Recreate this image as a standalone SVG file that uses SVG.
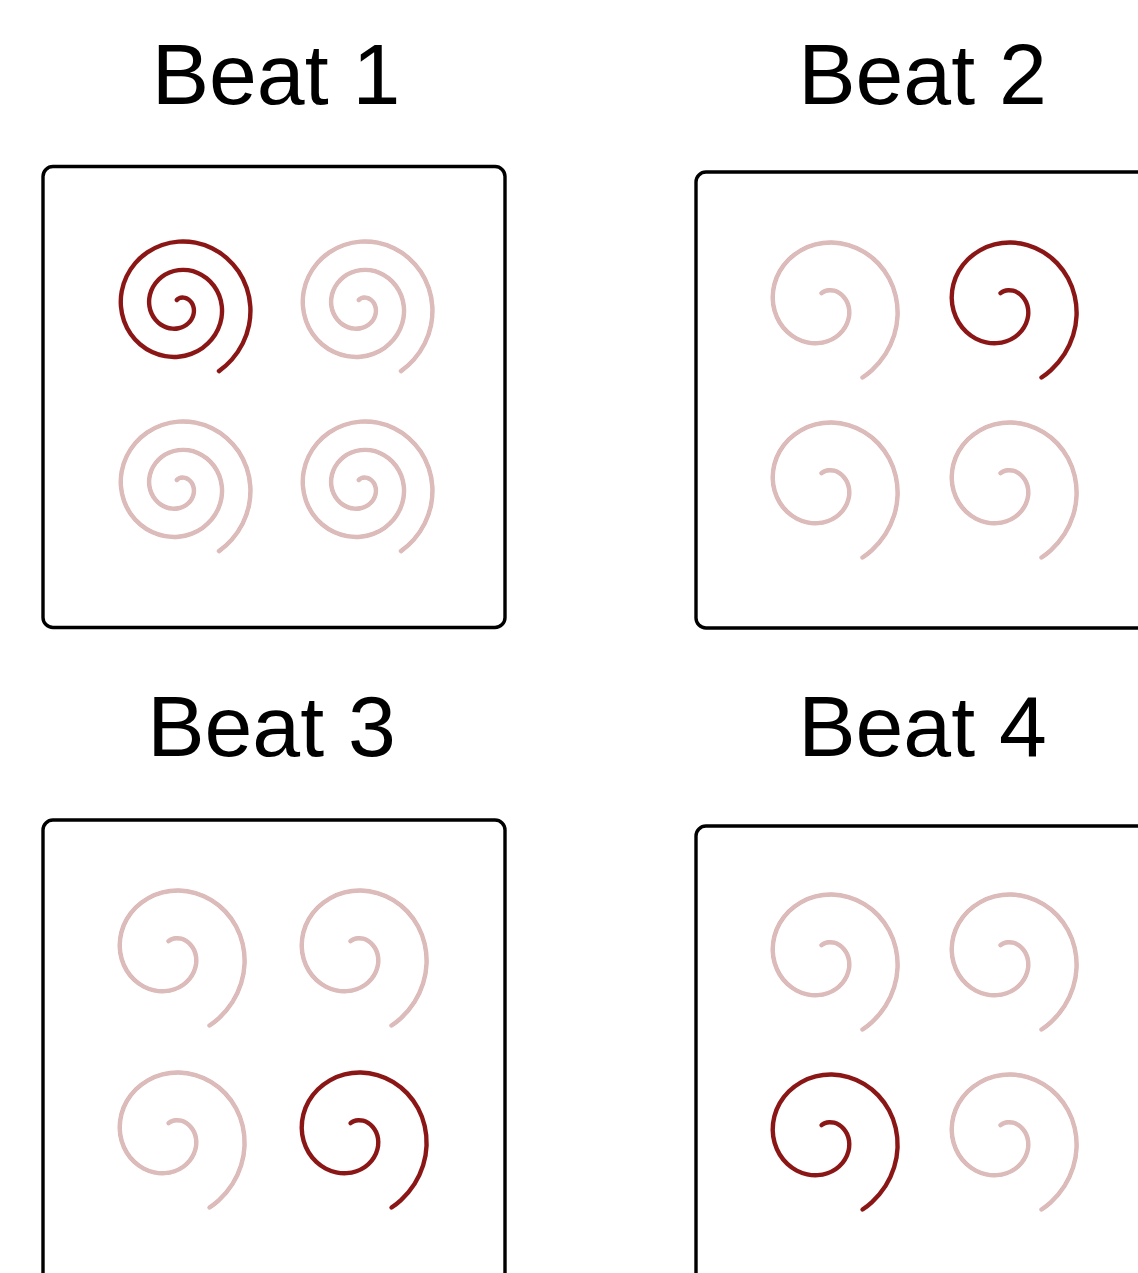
<svg xmlns="http://www.w3.org/2000/svg" width="1138" height="1273" viewBox="0 0 1138 1273">
<style>
.title{font-family:"Liberation Sans",Arial,sans-serif;font-size:86px;fill:#000;text-anchor:middle}
.box{fill:#fff;stroke:#000;stroke-width:3.4}
.sp{fill:none;stroke:#8a1515;stroke-width:4.4;stroke-linecap:round;stroke-linejoin:round;filter:url(#soft)}
.off{stroke-opacity:0.3}
</style>
<defs>
<filter id="soft" x="-10%" y="-10%" width="120%" height="120%"><feGaussianBlur stdDeviation="0.6"/></filter>
<path id="spA" d="M-1.68,-6.28 A7.09,7.09 0 0 1 0,-7.69 A8.28,8.28 0 0 1 2.30,-8.58 A9.47,9.47 0 0 1 5.03,-8.71 A10.66,10.66 0 0 1 7.95,-7.95 A11.84,11.84 0 0 1 10.77,-6.22 A13.03,13.03 0 0 1 13.17,-3.53 A14.22,14.22 0 0 1 14.81,0 A15.41,15.41 0 0 1 15.45,4.14 A16.59,16.59 0 0 1 14.89,8.60 A17.78,17.78 0 0 1 13,13 A18.97,18.97 0 0 1 9.78,16.94 A20.16,20.16 0 0 1 5.37,20.04 A21.34,21.34 0 0 1 0,21.94 A22.53,22.53 0 0 1 -5.99,22.34 A23.72,23.72 0 0 1 -12.16,21.05 A24.91,24.91 0 0 1 -18.03,18.03 A26.09,26.09 0 0 1 -23.11,13.35 A27.28,27.28 0 0 1 -26.93,7.22 A28.47,28.47 0 0 1 -29.06,0 A29.66,29.66 0 0 1 -29.22,-7.83 A30.84,30.84 0 0 1 -27.23,-15.72 A32.03,32.03 0 0 1 -23.07,-23.07 A33.22,33.22 0 0 1 -16.91,-29.28 A34.41,34.41 0 0 1 -9.06,-33.81 A35.59,35.59 0 0 1 0,-36.19 A36.78,36.78 0 0 1 9.67,-36.11 A37.97,37.97 0 0 1 19.28,-33.39 A39.16,39.16 0 0 1 28.11,-28.11 A40.34,40.34 0 0 1 35.45,-20.47 A41.53,41.53 0 0 1 40.69,-10.90 A42.72,42.72 0 0 1 43.31,0 A43.91,43.91 0 0 1 42.98,11.52 A45.09,45.09 0 0 1 39.57,22.85 A46.28,46.28 0 0 1 33.15,33.15 A47.47,47.47 0 0 1 24.03,41.62 A48.66,48.66 0 0 1 12.75,47.57 A49.84,49.84 0 0 1 0,50.44 A51.03,51.03 0 0 1 -13.36,49.87 A52.22,52.22 0 0 1 -26.41,45.73 A53.41,53.41 0 0 1 -38.18,38.18 A54.59,54.59 0 0 1 -47.79,27.60 A55.78,55.78 0 0 1 -54.46,14.59 A56.97,56.97 0 0 1 -57.56,0 A58.16,58.16 0 0 1 -56.75,-15.20 A59.34,59.34 0 0 1 -51.91,-29.97 A60.53,60.53 0 0 1 -43.23,-43.23 A61.72,61.72 0 0 1 -31.16,-53.96 A62.91,62.91 0 0 1 -16.43,-61.33 A64.09,64.09 0 0 1 0,-64.69 A65.28,65.28 0 0 1 17.05,-63.63 A66.47,66.47 0 0 1 33.53,-58.07 A67.66,67.66 0 0 1 48.26,-48.26 A68.84,68.84 0 0 1 60.13,-34.72 A70.03,70.03 0 0 1 68.22,-18.28 A71.22,71.22 0 0 1 71.81,0 A72.41,72.41 0 0 1 70.51,18.89 A73.59,73.59 0 0 1 64.25,37.09 A74.78,74.78 0 0 1 53.30,53.30 A75.9,75.9 0 0 1 40.48,64.79"/>
<path id="spB" d="M-1.46,-11.91 A13.02,13.02 0 0 1 1.95,-13.90 A15.06,15.06 0 0 1 6.28,-14.80 A17.10,17.10 0 0 1 11.16,-14.29 A19.15,19.15 0 0 1 16.11,-12.14 A21.19,21.19 0 0 1 20.59,-8.32 A23.23,23.23 0 0 1 24.07,-2.96 A25.27,25.27 0 0 1 26.03,3.66 A27.31,27.31 0 0 1 26.08,11.07 A29.35,29.35 0 0 1 23.94,18.71 A31.40,31.40 0 0 1 19.51,25.89 A33.44,33.44 0 0 1 12.91,31.95 A35.48,35.48 0 0 1 4.45,36.23 A37.52,37.52 0 0 1 -5.36,38.17 A39.56,39.56 0 0 1 -15.85,37.35 A41.60,41.60 0 0 1 -26.25,33.59 A43.65,43.65 0 0 1 -35.67,26.88 A45.69,45.69 0 0 1 -43.31,17.50 A47.73,47.73 0 0 1 -48.38,5.94 A49.77,49.77 0 0 1 -50.30,-7.07 A51.81,51.81 0 0 1 -48.63,-20.64 A53.85,53.85 0 0 1 -43.25,-33.79 A55.90,55.90 0 0 1 -34.25,-45.46 A57.94,57.94 0 0 1 -22.09,-54.67 A59.98,59.98 0 0 1 -7.44,-60.54 A62.02,62.02 0 0 1 8.78,-62.43 A64.06,64.06 0 0 1 25.43,-59.91 A66.10,66.10 0 0 1 41.33,-52.90 A68.15,68.15 0 0 1 55.24,-41.63 A70.19,70.19 0 0 1 66.03,-26.68 A72.23,72.23 0 0 1 72.70,-8.93 A74.27,74.27 0 0 1 74.56,10.48 A76.31,76.31 0 0 1 71.18,30.21 A78.35,78.35 0 0 1 62.55,48.87 A80.40,80.40 0 0 1 49.00,65.02 A82.0,82.0 0 0 1 39.52,72.49"/>
</defs>
<rect width="1138" height="1273" fill="#fff"/>
<g id="beat1">
<text class="title" x="276" y="104">Beat 1</text>
<rect class="box" x="43" y="166.5" width="462" height="461" rx="10"/>
<use href="#spA" class="sp" x="178.5" y="306.3"/>
<use href="#spA" class="sp off" x="360.5" y="306.3"/>
<use href="#spA" class="sp off" x="178.5" y="486.3"/>
<use href="#spA" class="sp off" x="360.5" y="486.3"/>
</g>
<g id="beat2">
<text class="title" x="922.5" y="104">Beat 2</text>
<rect class="box" x="696" y="172" width="462" height="456" rx="10"/>
<use href="#spB" class="sp off" x="823" y="305"/>
<use href="#spB" class="sp" x="1002" y="305"/>
<use href="#spB" class="sp off" x="823" y="485"/>
<use href="#spB" class="sp off" x="1002" y="485"/>
</g>
<g id="beat3">
<text class="title" x="271.5" y="756">Beat 3</text>
<rect class="box" x="43" y="820" width="462" height="470" rx="10"/>
<use href="#spB" class="sp off" x="170" y="953"/>
<use href="#spB" class="sp off" x="352" y="953"/>
<use href="#spB" class="sp off" x="170" y="1135"/>
<use href="#spB" class="sp" x="352" y="1135"/>
</g>
<g id="beat4">
<text class="title" x="922.5" y="756">Beat 4</text>
<rect class="box" x="696" y="826" width="462" height="470" rx="10"/>
<use href="#spB" class="sp off" x="823" y="957"/>
<use href="#spB" class="sp off" x="1002" y="957"/>
<use href="#spB" class="sp" x="823" y="1137"/>
<use href="#spB" class="sp off" x="1002" y="1137"/>
</g>
</svg>
